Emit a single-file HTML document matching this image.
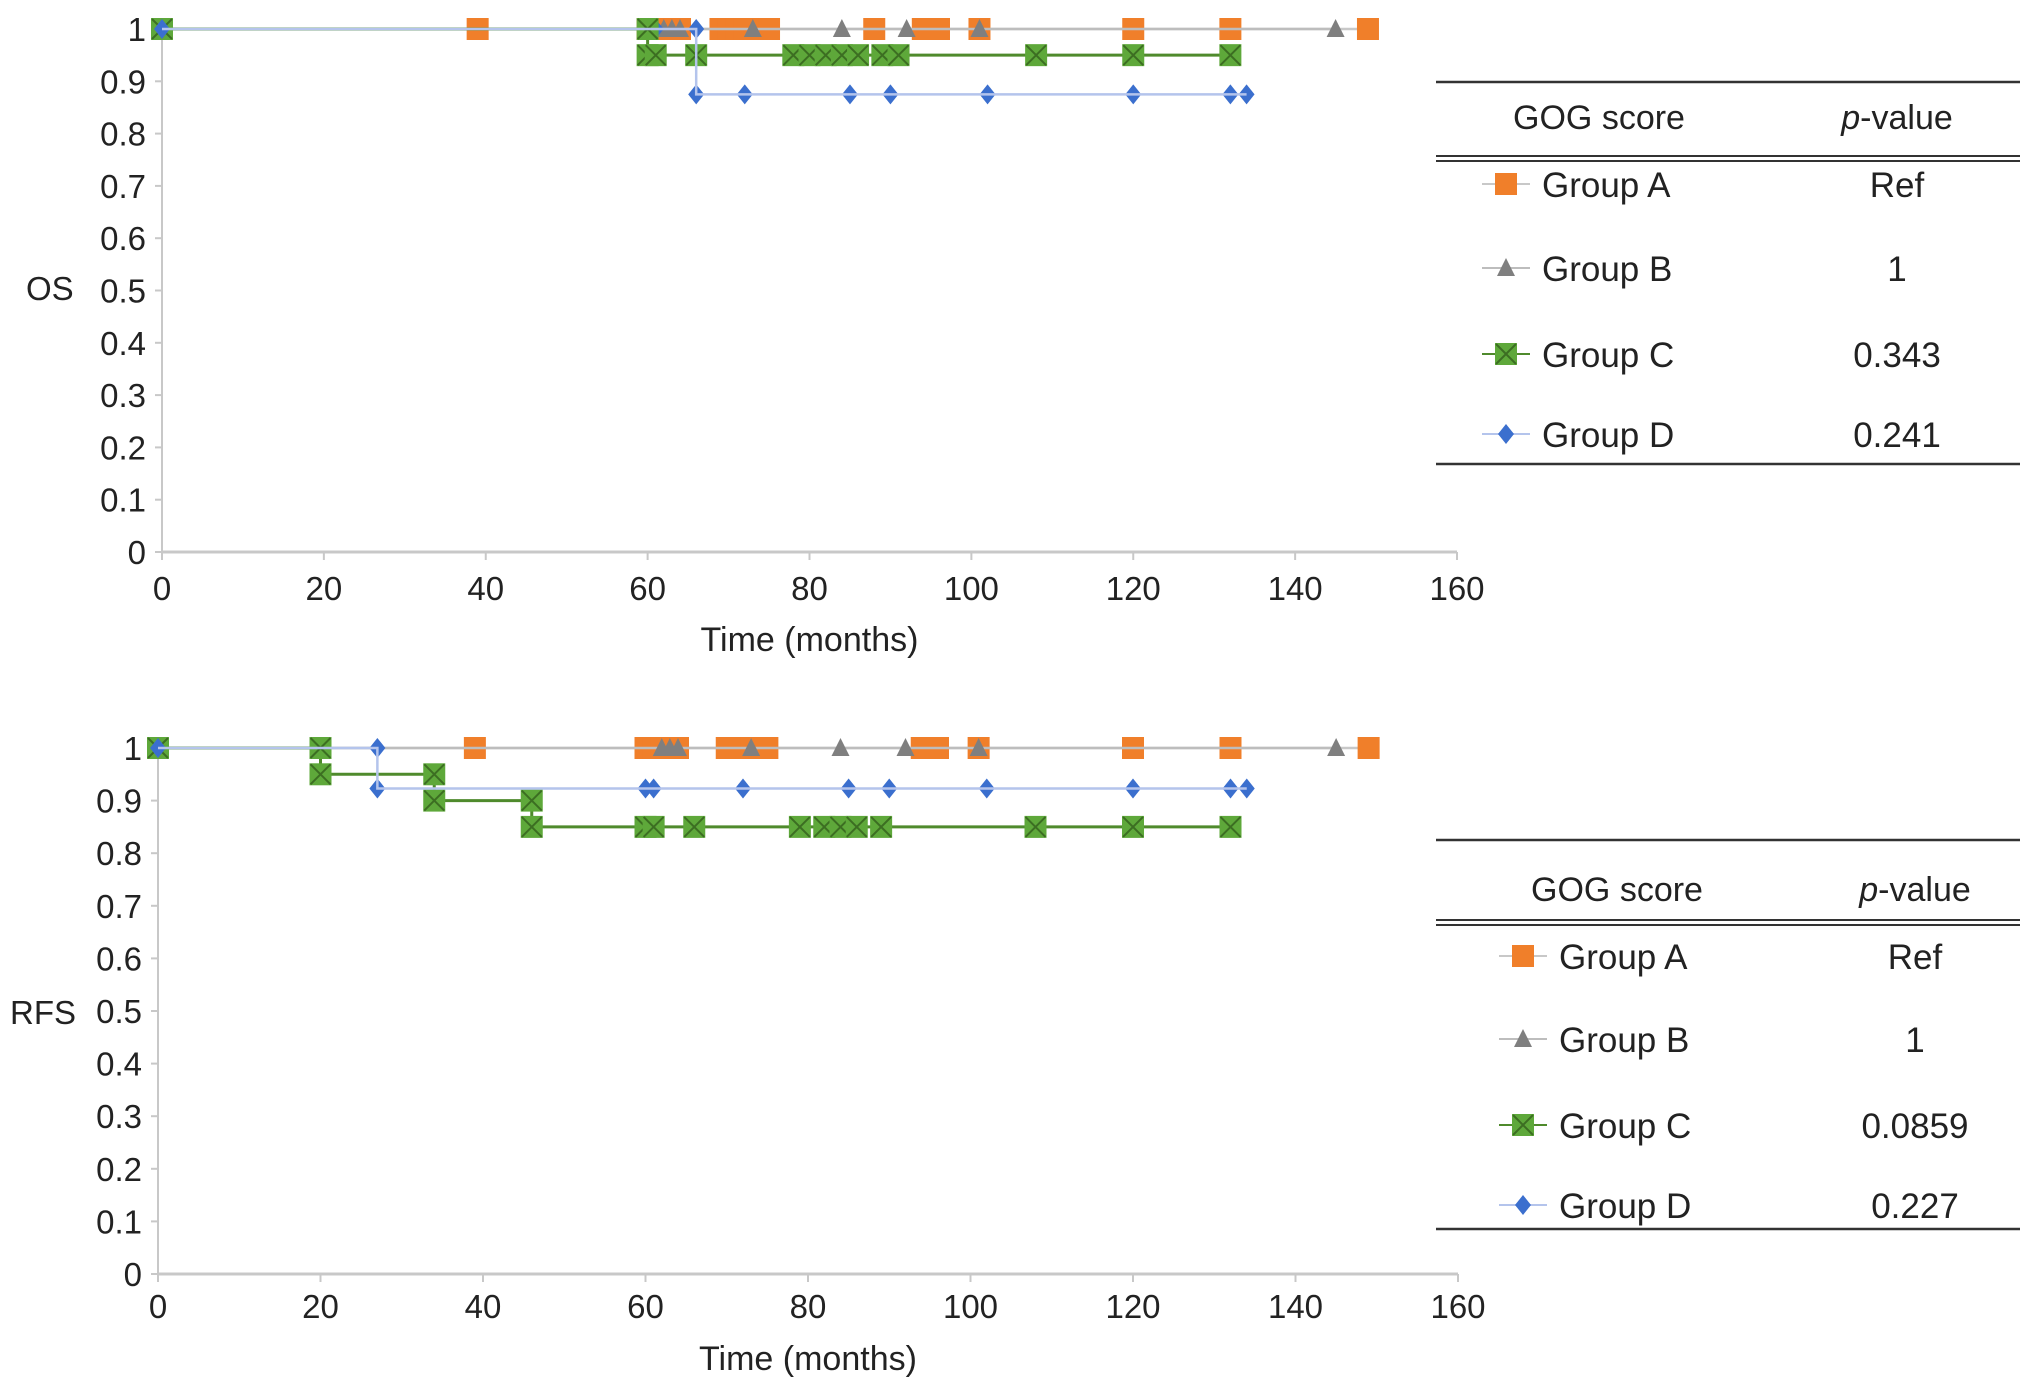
<!DOCTYPE html>
<html><head><meta charset="utf-8"><style>
body{margin:0;background:#fff;}
svg{display:block;font-family:"Liberation Sans",sans-serif;}
</style></head><body>
<svg id="c" width="2032" height="1389" viewBox="0 0 2032 1389"></svg>
<script>
// ---- data ----
const xTicks=[0,20,40,60,80,100,120,140,160];
const yTicks=[0,0.1,0.2,0.3,0.4,0.5,0.6,0.7,0.8,0.9,1];
const yTickLabels=["0","0.1","0.2","0.3","0.4","0.5","0.6","0.7","0.8","0.9","1"];
const groupNames=["Group A","Group B","Group C","Group D"];
const osPvals=["Ref","1","0.343","0.241"];
const rfsPvals=["Ref","1","0.0859","0.227"];
// OS
const osA_t=[0,39,60,61,62,63,64,69,70,71,72,73,74,75,88,94,95,96,101,120,132,149];
const osA_s=[1,1,1,1,1,1,1,1,1,1,1,1,1,1,1,1,1,1,1,1,1,1];
const osB_t=[0,62,63,64,73,84,92,101,145];
const osB_s=[1,1,1,1,1,1,1,1,1];
const osC_t=[0,60,60,61,66,78,80,82,84,86,89,91,108,120,132];
const osC_s=[1,1,0.95,0.95,0.95,0.95,0.95,0.95,0.95,0.95,0.95,0.95,0.95,0.95,0.95];
const osD_t=[0,60,61,66,66,72,85,90,102,120,132,134];
const osD_s=[1,1,1,1,0.875,0.875,0.875,0.875,0.875,0.875,0.875,0.875];
// RFS
const rfsA_t=[0,39,60,61,62,63,64,70,71,72,73,74,75,94,95,96,101,120,132,149];
const rfsA_s=[1,1,1,1,1,1,1,1,1,1,1,1,1,1,1,1,1,1,1,1];
const rfsB_t=[0,62,63,64,73,84,92,101,145];
const rfsB_s=[1,1,1,1,1,1,1,1,1];
const rfsC_t=[0,20,20,34,34,46,46,60,61,66,79,82,84,86,89,108,120,132];
const rfsC_s=[1,1,0.95,0.95,0.9,0.9,0.85,0.85,0.85,0.85,0.85,0.85,0.85,0.85,0.85,0.85,0.85,0.85];
const rfsD_t=[0,27,27,60,61,72,85,90,102,120,132,134];
const rfsD_s=[1,1,0.923,0.923,0.923,0.923,0.923,0.923,0.923,0.923,0.923,0.923];

const NS="http://www.w3.org/2000/svg";
const svg=document.getElementById('c');
function el(tag,attrs,parent,text){const e=document.createElementNS(NS,tag);for(const k in attrs)e.setAttribute(k,attrs[k]);if(text!==undefined)e.textContent=text;(parent||svg).appendChild(e);return e;}

const styles=[
 {line:"#c8c8c8",fill:"#f07f2a",mk:"sq"},
 {line:"#bdbdbd",fill:"#7f7f7f",mk:"tri"},
 {line:"#4f8a2c",fill:"#5ea83a",mk:"xsq"},
 {line:"#b4c4ec",fill:"#3b6fce",mk:"dia"}
];
function marker(g,type,cx,cy){
  let m;
  if(type==="sq"){m=el('rect',{x:cx-11,y:cy-11,width:22,height:22,fill:"#f07f2a"},g);}
  else if(type==="tri"){m=el('polygon',{points:`${cx},${cy-10} ${cx+9},${cy+8} ${cx-9},${cy+8}`,fill:"#7f7f7f"},g);}
  else if(type==="xsq"){m=el('g',{},g);el('rect',{x:cx-11,y:cy-11,width:22,height:22,fill:"#5ea83a"},m);
    el('path',{d:`M${cx-10},${cy-10}L${cx+10},${cy+10}M${cx+10},${cy-10}L${cx-10},${cy+10}`,stroke:"#3c6e22","stroke-width":2},m);}
  else {m=el('polygon',{points:`${cx},${cy-10} ${cx+8},${cy} ${cx},${cy+10} ${cx-8},${cy}`,fill:"#3b6fce"},g);}
  
  
}
function chart(cfg){
  const X=v=>cfg.x0+(cfg.x1-cfg.x0)*v/160;
  const Y=v=>cfg.y0+(cfg.y1-cfg.y0)*v;
  const g=el('g',{},svg);
  
  
  const ax=el('g',{},g);
  
  
  el('line',{x1:X(0),y1:Y(0),x2:X(160),y2:Y(0),stroke:"#c8c8c8","stroke-width":3},ax);
  el('line',{x1:X(0),y1:Y(0),x2:X(0),y2:Y(1),stroke:"#c8c8c8","stroke-width":2},ax);
  xTicks.forEach(t=>{
    el('line',{x1:X(t),y1:Y(0),x2:X(t),y2:Y(0)+8,stroke:"#c8c8c8","stroke-width":2},ax);
    const tx=el('text',{x:X(t),y:cfg.xlabY+2,"text-anchor":"middle","font-size":33,fill:"#222"},ax,String(t));
    
    
  });
  yTicks.forEach((t,i)=>{
    el('line',{x1:X(0)-7,y1:Y(t),x2:X(0),y2:Y(t),stroke:"#c8c8c8","stroke-width":2},ax);
    const ty=el('text',{x:X(0)-16,y:Y(t)+12,"text-anchor":"end","font-size":33,fill:"#222"},ax,yTickLabels[i]);
    
    
  });
  const xt=el('text',{x:(X(0)+X(160))/2,y:cfg.xtitleY+2,"text-anchor":"middle","font-size":34,fill:"#222"},g,"Time (months)");
  
  
  const yt=el('text',{x:cfg.ytitleX,y:cfg.ytitleY+2,"text-anchor":"start","font-size":33,fill:"#222"},g,cfg.ytitle);
  
  
  cfg.series.forEach((s,i)=>{
    const st=styles[i];
    const sg=el('g',{},g);
    
    
    const pts=s.t.map((t,j)=>X(t)+","+Y(s.s[j])).join(" ");
    el('polyline',{points:pts,fill:"none",stroke:st.line,"stroke-width":i===2?3:2.5},sg);
  });
  cfg.series.forEach((s,i)=>{
    const sg=g.querySelectorAll('g')[i+1];
    s.t.forEach((t,j)=>marker(sg,styles[i].mk,X(t),Y(s.s[j])));
  });
  const L=cfg.leg;
  const tg=el('g',{},svg);
  
  
  el('line',{x1:1436,y1:L.top,x2:2020,y2:L.top,stroke:"#333","stroke-width":2.5},tg);
  el('line',{x1:1436,y1:L.dbl,x2:2020,y2:L.dbl,stroke:"#333","stroke-width":2},tg);
  el('line',{x1:1436,y1:L.dbl+5,x2:2020,y2:L.dbl+5,stroke:"#333","stroke-width":2},tg);
  el('line',{x1:1436,y1:L.bot,x2:2020,y2:L.bot,stroke:"#333","stroke-width":2.5},tg);
  const h1=el('text',{x:L.hx1,y:L.head+12,"text-anchor":"middle","font-size":34,fill:"#222"},tg,"GOG score");
  
  
  const h2=el('text',{x:L.hx2,y:L.head+12,"text-anchor":"middle","font-size":34,fill:"#222"},tg);
  
  
  el('tspan',{"font-style":"italic"},h2,"p");
  el('tspan',{},h2,"-value");
  L.rows.forEach((ry,i)=>{
    const st=styles[i];
    el('line',{x1:L.mx-24,y1:ry,x2:L.mx+24,y2:ry,stroke:st.line,"stroke-width":2},tg);
    marker(tg,st.mk,L.mx,ry);
    const gn=el('text',{x:L.mx+36,y:ry+13,"font-size":35,fill:"#222"},tg,groupNames[i]);
    
    
    const pv=el('text',{x:L.hx2,y:ry+13,"text-anchor":"middle","font-size":35,fill:"#222"},tg,cfg.pv[i]);
    
    
  });
}
chart({name:"os-chart",x0:162,x1:1457,y0:552,y1:29,xlabY:598,xtitleY:649,ytitle:"OS",ytitleX:26,ytitleY:298,
  series:[{t:osA_t,s:osA_s},{t:osB_t,s:osB_s},{t:osC_t,s:osC_s},{t:osD_t,s:osD_s}],pv:osPvals,
  leg:{top:82,head:117,dbl:156,bot:464,hx1:1599,hx2:1897,mx:1506,rows:[184,268,354,434]}});
chart({name:"rfs-chart",x0:158,x1:1458,y0:1274,y1:748,xlabY:1316,xtitleY:1368,ytitle:"RFS",ytitleX:10,ytitleY:1022,
  series:[{t:rfsA_t,s:rfsA_s},{t:rfsB_t,s:rfsB_s},{t:rfsC_t,s:rfsC_s},{t:rfsD_t,s:rfsD_s}],pv:rfsPvals,
  leg:{top:840,head:889,dbl:920,bot:1229,hx1:1617,hx2:1915,mx:1523,rows:[956,1039,1125,1205]}});
</script>
</body></html>
